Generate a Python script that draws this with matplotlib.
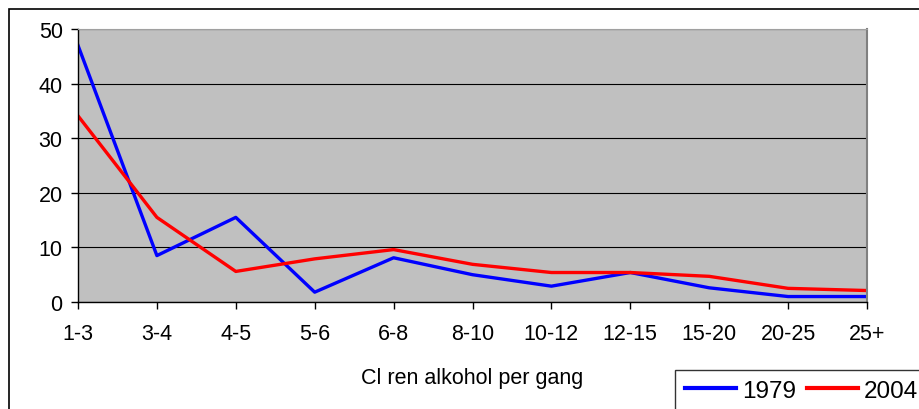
import matplotlib
matplotlib.use("Agg")
import matplotlib.pyplot as plt
from matplotlib.patches import Rectangle

plt.rcParams['font.family'] = ['Liberation Sans', 'DejaVu Sans']

categories = ["1-3", "3-4", "4-5", "5-6", "6-8", "8-10", "10-12", "12-15", "15-20", "20-25", "25+"]
y1979 = [47, 8.5, 15.5, 1.8, 8.1, 5.0, 2.9, 5.4, 2.6, 1.0, 1.0]
y2004 = [34.1, 15.5, 5.6, 7.9, 9.6, 6.9, 5.4, 5.4, 4.7, 2.5, 2.1]
yticks = [0, 10, 20, 30, 40, 50]

fig = plt.figure(figsize=(9.19, 4.10), dpi=100)
ax = fig.add_axes([78/919, 1 - 303/410, (867 - 78)/919, (303 - 30)/410])
ax.set_facecolor('#C0C0C0')

x = list(range(len(categories)))
ax.plot(x, y1979, color='#0000FF', lw=2.4, label='1979', solid_joinstyle='round')
ax.plot(x, y2004, color='#FF0000', lw=2.4, label='2004', solid_joinstyle='round')

ax.set_xlim(0, len(categories) - 1)
ax.set_ylim(0, 50)
ax.set_yticks(yticks)
ax.set_xticks(x)
ax.set_xticklabels(categories)
ax.tick_params(axis='both', labelsize=15.5, direction='out', length=5, width=1, color='black')
ax.tick_params(axis='x', pad=10)
ax.tick_params(axis='y', pad=6)
ax.grid(axis='y', color='black', lw=0.8)
ax.set_axisbelow(True)

for s in ['left', 'bottom']:
    ax.spines[s].set_color('black')
    ax.spines[s].set_linewidth(1)
ax.spines['top'].set_color('#A0A0A0')
ax.spines['right'].set_color('#808080')
ax.spines['right'].set_linewidth(1.5)

ax.set_xlabel('Cl ren alkohol per gang', fontsize=15.5, labelpad=17)

# outer chart frame (runs off the right and bottom of the image)
fig.patches.append(Rectangle((9/919, -0.2), 1.2, 1.2 - 10/410, transform=fig.transFigure,
                             fill=False, edgecolor='black', lw=1.2))

leg = fig.legend(loc='upper left', bbox_to_anchor=(675/919, 1 - 371/410), ncol=2,
                 fontsize=17.5, frameon=True, fancybox=False, handlelength=2.1,
                 handletextpad=0.25, columnspacing=0.45, borderpad=0.4, borderaxespad=0)
leg.get_frame().set_edgecolor('black')
leg.get_frame().set_linewidth(1)
for line in leg.get_lines():
    line.set_linewidth(3)

fig.savefig('out.png', dpi=100)
